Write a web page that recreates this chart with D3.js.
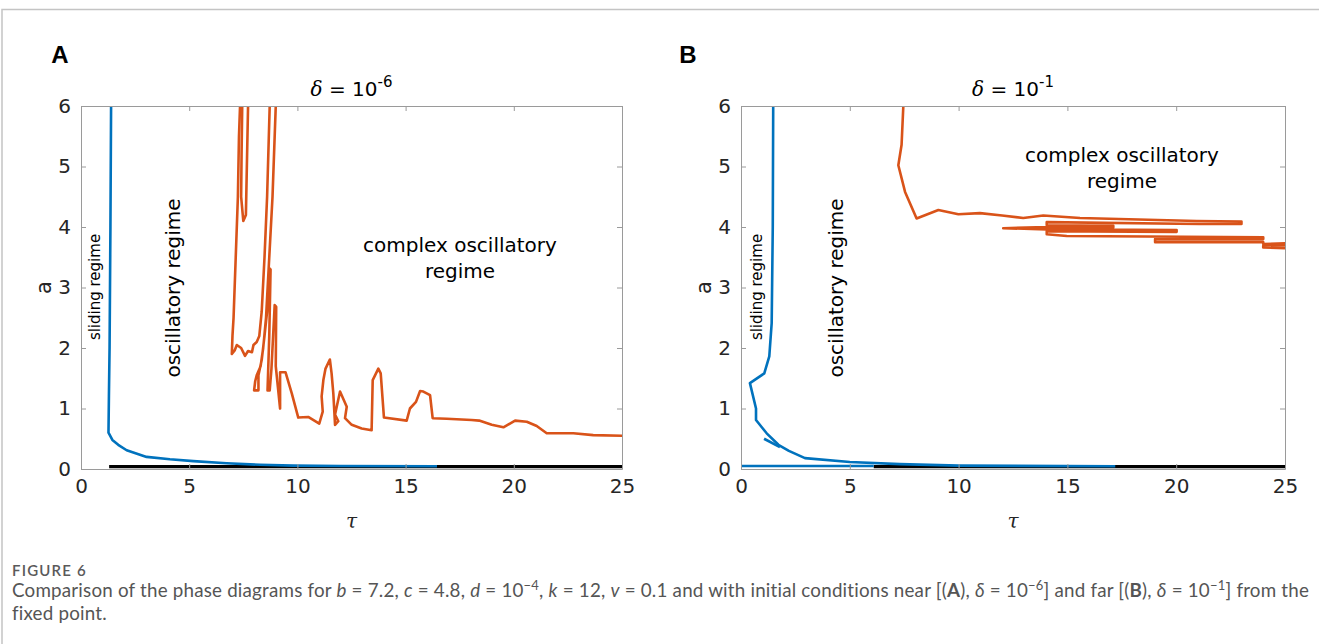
<!DOCTYPE html>
<html>
<head>
<meta charset="utf-8">
<script src="https://cdn.jsdelivr.net/npm/d3@7"></script>
<style>
  body { margin: 0; background: #fff; }
  svg { display: block; }
</style>
</head>
<body>
<div id="fig"></div>
<script>
// tick values shared by both panels
const xTicks = [0, 5, 10, 15, 20, 25];
const yTicks = [0, 1, 2, 3, 4, 5, 6];

// panel A (delta = 1e-6), points are [tau, a]
const blueA = [[1.39, 6], [1.36, 4], [1.32, 2], [1.29, 1.2], [1.27, 0.6], [1.45, 0.48], [1.72, 0.4],
  [2.11, 0.31], [3.03, 0.2], [4.11, 0.16], [5.19, 0.13], [6.73, 0.095], [8.27, 0.07], [9.8, 0.055],
  [12, 0.05], [16.45, 0.045]];
const blackA = [[1.3, 0.04], [25, 0.04]];
const orangeA1 = [[7.35, 6], [7.3, 5.5], [7.25, 4.5], [7.15, 3.5], [7.05, 2.5], [7.0, 2.2], [6.97, 1.9],
  [7.1, 1.96], [7.2, 2.05], [7.4, 2.0], [7.58, 1.87], [7.72, 1.95], [7.9, 1.93], [7.97, 2.05],
  [8.12, 2.1], [8.24, 2.2], [8.35, 2.6], [8.48, 3.5], [8.6, 4.5], [8.72, 6]];
const orangeA2 = [[7.45, 6], [7.42, 5.2], [7.4, 4.5], [7.5, 4.1], [7.62, 4.2], [7.72, 6]];
const orangeA3 = [[9.0, 6], [8.85, 4.5], [8.7, 3.5], [8.55, 2.5], [8.42, 2.0], [8.3, 1.7], [8.12, 1.55],
  [8.05, 1.45], [8.0, 1.3], [8.2, 1.3], [8.2, 1.55], [8.35, 1.8], [8.48, 2.2], [8.6, 2.6], [8.7, 3.32],
  [8.76, 3.3], [8.7, 2.2], [8.62, 1.3], [8.72, 1.3], [8.8, 1.65], [8.95, 2.71], [9.02, 2.68],
  [9.0, 1.7], [9.1, 1.35], [9.2, 1.0], [9.2, 1.6], [9.45, 1.6], [9.74, 1.25], [10.04, 0.85],
  [10.5, 0.86], [11.01, 0.75], [11.17, 0.95], [11.12, 1.2], [11.2, 1.47], [11.3, 1.66], [11.5, 1.81],
  [11.58, 1.58], [11.66, 1.25], [11.74, 0.73], [11.89, 0.79], [11.74, 0.9], [11.97, 1.28],
  [12.28, 1.03], [12.2, 0.84], [12.51, 0.73], [12.97, 0.67], [13.43, 0.64], [13.48, 1.47],
  [13.74, 1.66], [13.85, 1.58], [14.0, 0.85], [15.05, 0.8], [15.2, 1.0], [15.48, 1.11],
  [15.67, 1.29], [15.82, 1.28], [16.13, 1.22], [16.25, 0.84], [16.9, 0.83], [18.05, 0.81],
  [18.4, 0.8], [18.98, 0.73], [19.52, 0.69], [20.06, 0.8], [20.6, 0.78], [21.06, 0.71],
  [21.52, 0.59], [22.75, 0.59], [23.67, 0.56], [25, 0.55]];

// panel B (delta = 1e-1)
const blueB = [[1.48, 6], [1.46, 4], [1.41, 2.41], [1.3, 1.86], [1.07, 1.58], [0.41, 1.42], [0.69, 1.0],
  [0.69, 0.81], [1.18, 0.59], [1.72, 0.4], [2.2, 0.3], [2.94, 0.18], [5, 0.115], [7.3, 0.08],
  [10, 0.055], [17.2, 0.045]];
const blueB2 = [[1.06, 0.5], [1.79, 0.36]];
const blueB3 = [[0, 0.05], [6.1, 0.05]];
const blackB = [[6.1, 0.04], [25, 0.04]];
const orangeB = [[7.46, 6], [7.38, 5.36], [7.23, 5.02], [7.54, 4.58], [8.07, 4.14], [9.07, 4.28],
  [9.99, 4.21], [10.98, 4.23], [12.0, 4.19], [12.97, 4.15], [13.89, 4.19], [15.58, 4.15],
  [20.94, 4.1], [23.0, 4.09], [23.0, 4.05], [21.1, 4.05], [14.05, 4.08], [14.05, 4.03],
  [17.11, 4.02], [17.11, 3.99], [14.05, 4.0], [12.05, 3.98], [14.05, 3.96], [20.02, 3.95],
  [20.02, 3.92], [14.05, 3.93], [14.05, 3.88], [14.97, 3.85], [24.0, 3.83], [24.0, 3.8],
  [19.03, 3.8], [19.03, 3.75], [24.0, 3.75], [24.0, 3.72], [25, 3.73], [25, 3.7], [24.0, 3.69],
  [24.0, 3.66], [25, 3.65]];

// caption pieces: [text, style] where style is "", "i" italic, "b" bold, "s" superscript
const captionLine1 = [
  ["Comparison of the phase diagrams for ", ""], ["b", "i"], [" = 7.2, ", ""], ["c", "i"], [" = 4.8, ", ""],
  ["d", "i"], [" = 10", ""], ["−4", "s"], [", ", ""], ["k", "i"], [" = 12, ", ""], ["v", "i"],
  [" = 0.1 and with initial conditions near [(", ""], ["A", "b"], ["), ", ""], ["δ", "i"], [" = 10", ""],
  ["−6", "s"], ["] and far [(", ""], ["B", "b"], ["), ", ""], ["δ", "i"], [" = 10", ""], ["−1", "s"],
  ["] from the", ""]];
const captionLine2 = "fixed point.";

const W = 1319, H = 644;
const blue = "#0072BD", orange = "#D95319";
const axisFont = "DejaVu Sans, sans-serif";

const svg = d3.select("#fig").append("svg").attr("width", W).attr("height", H);

// page frame
svg.append("path").attr("d", `M2,${H} V9.5 H${W}`).attr("fill", "none")
  .attr("stroke", "#c4c4c4").attr("stroke-width", 1.5);

const panels = [
  { letter: "A", lx: 60, left: 81, right: 622, exp: "-6",
    lines: [[blackA, "#000", 3.2], [blueA, blue, 2.6], [orangeA1, orange, 2.6], [orangeA2, orange, 2.6], [orangeA3, orange, 2.6]],
    slide: 95, osc: 173, complex: [460, 252] },
  { letter: "B", lx: 688, left: 741, right: 1285, exp: "-1",
    lines: [[blackB, "#000", 3.2], [blueB3, blue, 2.6], [blueB, blue, 2.6], [blueB2, blue, 2.6], [orangeB, orange, 2.6]],
    slide: 757, osc: 836, complex: [1122, 162] }
];

const yTop = 106, yBottom = 469;

panels.forEach(p => {
  const x = d3.scaleLinear().domain([0, 25]).range([p.left, p.right]);
  const y = d3.scaleLinear().domain([0, 6]).range([yBottom, yTop]);
  const g = svg.append("g");

  // data lines, clipped to the axes box
  const clipId = "clip" + p.letter;
  svg.append("clipPath").attr("id", clipId).append("rect")
    .attr("x", p.left).attr("y", yTop).attr("width", p.right - p.left).attr("height", yBottom - yTop);
  const line = d3.line().x(d => x(d[0])).y(d => y(d[1]));
  const lg = g.append("g").attr("clip-path", `url(#${clipId})`);
  p.lines.forEach(([pts, col, w]) => {
    lg.append("path").attr("d", line(pts)).attr("fill", "none")
      .attr("stroke", col).attr("stroke-width", w).attr("stroke-linejoin", "round");
  });

  // axes, ticks inward on all sides
  const ax = (axis, tr) => g.append("g").attr("transform", tr).call(axis)
    .call(s => s.select(".domain").attr("stroke", "#9a9a9a"))
    .call(s => s.selectAll(".tick line").attr("stroke", "#9a9a9a"))
    .call(s => s.selectAll("text").attr("fill", "#262626").style("font-family", axisFont).style("font-size", "20px"));
  const fmt = d3.format("d");
  ax(d3.axisBottom(x).tickValues(xTicks).tickFormat(fmt).tickSize(-5).tickSizeOuter(0).tickPadding(10), `translate(0,${yBottom})`);
  ax(d3.axisTop(x).tickValues(xTicks).tickSize(-5).tickSizeOuter(0).tickFormat(""), `translate(0,${yTop})`);
  ax(d3.axisLeft(y).tickValues(yTicks).tickFormat(fmt).tickSize(-5).tickSizeOuter(0).tickPadding(10), `translate(${p.left},0)`);
  ax(d3.axisRight(y).tickValues(yTicks).tickSize(-5).tickSizeOuter(0).tickFormat(""), `translate(${p.right},0)`);

  // panel letter
  svg.append("text").attr("x", p.lx).attr("y", 63).attr("text-anchor", "middle")
    .style("font-family", "Liberation Sans, Arial, sans-serif").style("font-weight", "bold")
    .style("font-size", "24px").text(p.letter);

  // title: delta = 10^exp
  const cx = (p.left + p.right) / 2;
  const t = svg.append("text").attr("x", cx).attr("y", 96).attr("text-anchor", "middle")
    .style("font-family", axisFont).style("font-size", "20px").attr("fill", "#000");
  t.append("tspan").style("font-family", "DejaVu Serif, serif").style("font-style", "italic").text("δ");
  t.append("tspan").text(" = 10");
  t.append("tspan").attr("dy", -9).style("font-size", "15px").text(p.exp);

  // axis labels
  svg.append("text").attr("transform", `translate(${p.left - 30},${(yTop + yBottom) / 2}) rotate(-90)`)
    .attr("text-anchor", "middle").style("font-family", axisFont).style("font-size", "21px")
    .attr("fill", "#262626").text("a");
  svg.append("text").attr("x", cx).attr("y", 528).attr("text-anchor", "middle")
    .style("font-family", "DejaVu Serif, serif").style("font-style", "italic").style("font-size", "20px")
    .attr("fill", "#262626").text("τ");

  // regime annotations
  svg.append("text").attr("transform", `translate(${p.slide + 5},287) rotate(-90)`)
    .attr("text-anchor", "middle").style("font-family", axisFont).style("font-size", "15px")
    .text("sliding regime");
  svg.append("text").attr("transform", `translate(${p.osc + 7},288) rotate(-90)`)
    .attr("text-anchor", "middle").style("font-family", axisFont).style("font-size", "20px")
    .text("oscillatory regime");
  const ct = svg.append("text").attr("text-anchor", "middle")
    .style("font-family", axisFont).style("font-size", "20px");
  ct.append("tspan").attr("x", p.complex[0]).attr("y", p.complex[1]).text("complex oscillatory");
  ct.append("tspan").attr("x", p.complex[0]).attr("y", p.complex[1] + 26).text("regime");
});

// caption
const capFont = "Lato, Open Sans, sans-serif";
svg.append("text").attr("x", 12).attr("y", 576).style("font-family", capFont)
  .style("font-size", "15px").style("font-weight", "600").style("letter-spacing", "1.2px")
  .attr("fill", "#5a5a5a").text("FIGURE 6");
const cap = svg.append("text").attr("x", 12).attr("y", 597).style("font-family", capFont)
  .style("font-size", "18.8px").style("letter-spacing", "0.2px").attr("fill", "#555");
let raised = false;
captionLine1.forEach(([txt, st]) => {
  const ts = cap.append("tspan").text(txt);
  if (st === "s") { ts.attr("dy", -7).style("font-size", "13px"); raised = true; }
  else if (raised) { ts.attr("dy", 7); raised = false; }
  if (st === "i") ts.style("font-style", "italic");
  if (st === "b") ts.style("font-weight", "bold");
});
svg.append("text").attr("x", 12).attr("y", 620).style("font-family", capFont)
  .style("font-size", "18.8px").style("letter-spacing", "0.2px").attr("fill", "#555").text(captionLine2);
</script>
</body>
</html>
